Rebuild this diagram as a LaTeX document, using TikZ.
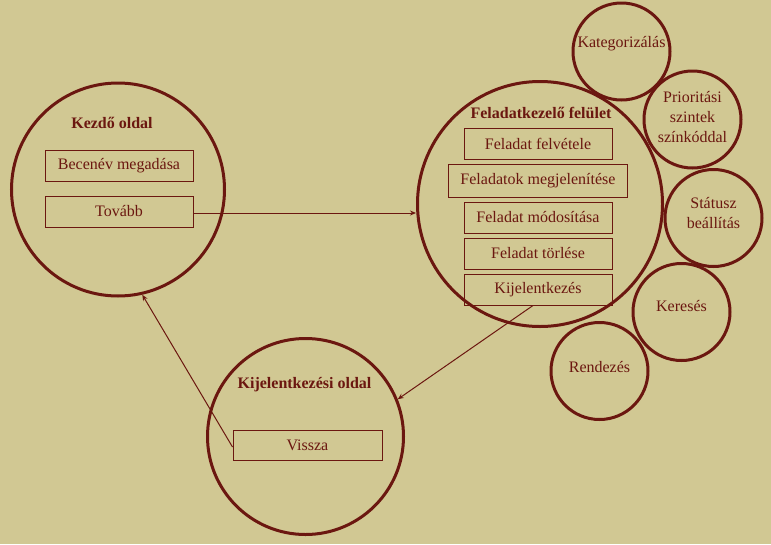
\documentclass[tikz,border=0pt]{standalone}
\usepackage{fontspec}
\setmainfont{Liberation Serif}
\usepackage{xcolor}
\definecolor{Maroon}{HTML}{6B1710}
\definecolor{Sand}{HTML}{D1C893}
\colorlet{maroon}{Maroon}
\colorlet{sand}{Sand}
\usetikzlibrary{arrows.meta,positioning}

\begin{document}
\begin{tikzpicture}[x=1pt,y=-1pt,node distance=4pt,
every node/.style={font=\fontsize{16}{20}\selectfont,text=maroon,align=center},
bigc/.style={draw=maroon,circle,line width=3pt,inner sep=0pt},
smallc/.style={draw=maroon,circle,line width=3pt,minimum size=97pt,inner sep=0pt},
box/.style={draw=maroon,line width=1pt,minimum width=148pt,minimum height=31pt,inner sep=0pt},
title/.style={font=\fontsize{16}{20}\selectfont\bfseries},
link/.style={draw=maroon,line width=1pt,-{Stealth[length=6pt,width=5pt]}}]
\path[use as bounding box,fill=sand] (0,0) rectangle (771,544);
% kezdo oldal
\node[bigc,minimum size=213pt] (kez) at (118,189.5) {};
\node[title] (kezt) at (112,123) {Kezdő oldal};
\node[box] (bec) at (119,165.5) {Becenév megadása};
\node[box,below=14pt of bec] (tov) {Tovább};
% feladatkezelo felulet
\node[bigc,minimum size=245pt] (fel) at (540,204) {};
\node[title] (felt) at (541,113) {Feladatkezelő felület};
\node[box] (f1) at (538,143.5) {Feladat felvétele};
\node[box,minimum width=179pt,minimum height=33pt,below=of f1] (f2) {Feladatok megjelenítése};
\node[box,below=of f2] (f3) {Feladat módosítása};
\node[box,below=of f3] (f4) {Feladat törlése};
\node[box,below=of f4] (kij) {Kijelentkezés};
% kijelentkezesi oldal
\node[bigc,minimum size=196pt] (kio) at (305.5,436.5) {};
\node[title] (kiot) at (304.5,385) {Kijelentkezési oldal};
\node[box,minimum width=149pt,minimum height=30pt] (vis) at (307.5,445) {Vissza};
% funkciok
\node[smallc,label={[yshift=7.5pt]center:Kategorizálás}] (kat) at (621.5,51.5) {};
\node[smallc,label={[yshift=2.5pt]center:Prioritási\\szintek\\színkóddal}] (pri) at (692.5,119.5) {};
\node[smallc,label={[yshift=5pt]center:Státusz\\beállítás}] (sta) at (713.5,218) {};
\node[smallc,label={[yshift=6pt]center:Keresés}] (ker) at (681.5,312) {};
\node[smallc,label={[yshift=4pt]center:Rendezés}] (ren) at (599.5,371) {};
\draw[link] ([yshift=-1.5pt]tov.east) -- ([yshift=-1.5pt]tov.east -| fel.west);
\draw[link] ([xshift=-5pt]kij.south) -- (kio.22);
\draw[link] ([yshift=-2pt]vis.west) -- (kez.-77);
\end{tikzpicture}
\end{document}
